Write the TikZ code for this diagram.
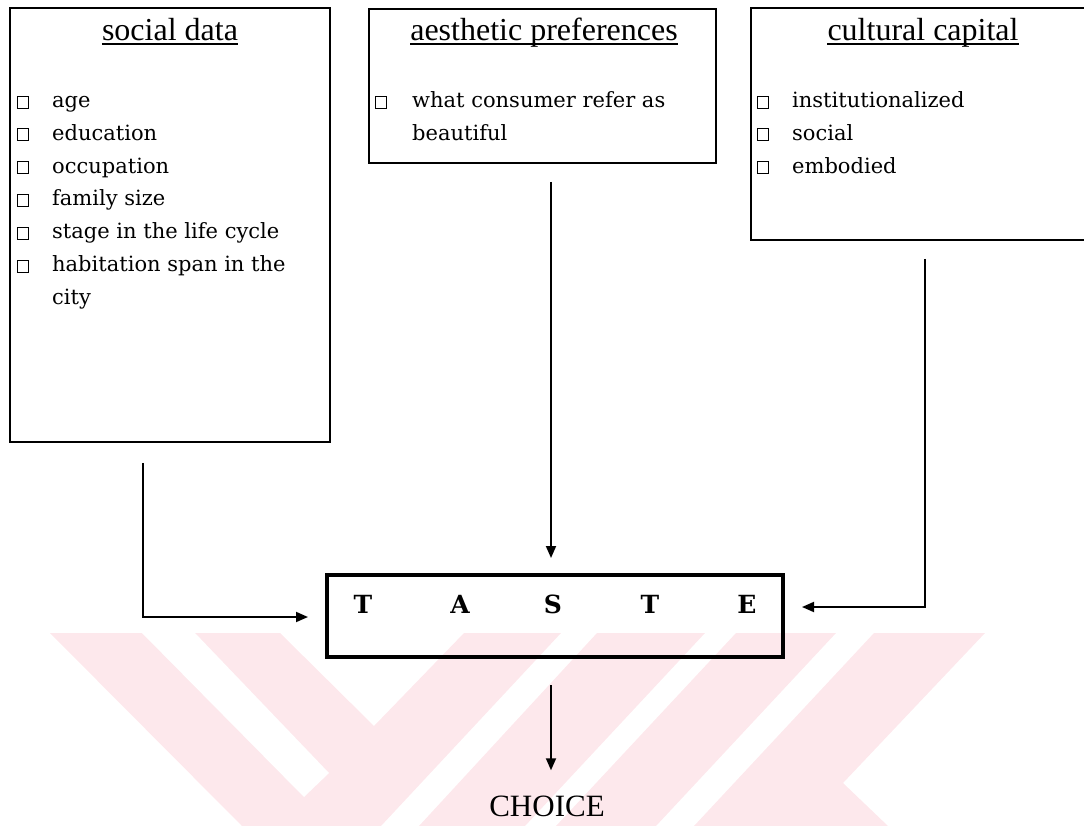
\documentclass[tikz,border=0pt]{standalone}
\usepackage{fontspec}
\setmainfont{Liberation Serif}
\newfontfamily\itemfont{DejaVu Serif}
\usetikzlibrary{arrows.meta}
\definecolor{wmpink}{RGB}{253,232,236}

\begin{document}
\begin{tikzpicture}[x=1pt,y=-1pt,
  box/.style={draw, line width=1.6pt, rectangle, inner sep=0},
  tastebox/.style={draw, line width=4pt, rectangle, inner sep=0,
                   minimum width=456pt, minimum height=82pt},
  ttl/.style={inner sep=0, anchor=base, font=\fontsize{32}{38}\selectfont},
  uline/.style={line width=1.3pt},
  itm/.style={inner sep=0, anchor=base west, font=\itemfont\fontsize{21}{25}\selectfont},
  chkbox/.style={draw, line width=0.8pt, minimum width=11pt, minimum height=12pt, inner sep=0},
  letter/.style={inner sep=0, anchor=base, font=\itemfont\bfseries\fontsize{25}{30}\selectfont},
  conn/.style={line width=1.8pt, -{Triangle[length=12pt,width=10pt]}}]

\useasboundingbox (0,0) rectangle (1084,826);

% faint logo in the lower part of the page
\fill[wmpink] (50,633) -- (280,633) -- (374,726) -- (464,633) -- (561,633)
  -- (381,826) -- (242,826) -- cycle;
\fill[white] (142,633) -- (195,633) -- (329,773) -- (304,797) -- cycle;
\fill[wmpink] (597,633) -- (705,633) -- (525,826) -- (419,826) -- cycle;
\fill[wmpink] (736,633) -- (836,633) -- (656,826) -- (556,826) -- cycle;
\fill[wmpink] (874,633) -- (985,633) -- (843,783) -- (888,826) -- (694,826) -- cycle;

% three source boxes
\node[box, minimum width=320pt, minimum height=434pt] (social) at (170,225) {};
\node[box, minimum width=347pt, minimum height=154pt] (aes) at (542.5,86) {};
\node[box, minimum width=339pt, minimum height=232pt] (cult) at (920.5,124) {};

% headings
\node[ttl] (t1) at (170,41) {social data};
\node[ttl] (t2) at (544,41) {aesthetic preferences};
\node[ttl] (t3) at (923,41) {cultural capital};
\foreach \t in {t1,t2,t3}
  \draw[uline] ([yshift=-3pt]\t.base west) -- ([yshift=-3pt]\t.base east);

% social data items
\foreach \txt [count=\i from 0] in {age,education,occupation,family size,stage in the life cycle,habitation span in the}{
  \node[chkbox] (sc\i) at (22.5,{102+32.8*\i}) {};
  \node[itm] (st\i) at (52,{107.5+32.8*\i}) {\txt};
}
\node[itm] (st6) at (52,304.3) {city};

% aesthetic preference items
\node[chkbox] (ac0) at (381,102) {};
\node[itm] (at0) at (412,107.5) {what consumer refer as};
\node[itm] (at1) at (412,140.3) {beautiful};

% cultural capital items
\foreach \txt [count=\i from 0] in {institutionalized,social,embodied}{
  \node[chkbox] (cc\i) at (763,{102+32.8*\i}) {};
  \node[itm] (ct\i) at (792,{107.5+32.8*\i}) {\txt};
}

% taste box
\node[tastebox] (taste) at (555,616) {};
\foreach \l/\x in {T/363,A/460,S/553,T/650,E/747}
  \node[letter] at (\x,613) {\l};

% outcome
\node[inner sep=0, anchor=base, font=\fontsize{31}{37}\selectfont] (choice) at (547,816) {CHOICE};

% connectors
\draw[conn] ([xshift=-27pt,yshift=-20pt]social.south) |- ([xshift=-17pt,yshift=-1pt]taste.west);
\draw[conn] ([xshift=8.5pt,yshift=-18pt]aes.south) -- ([xshift=-4pt,yshift=15pt]taste.north);
\draw[conn] ([xshift=4.5pt,yshift=-18pt]cult.south) |- ([xshift=17pt,yshift=9pt]taste.east);
\draw[conn] ([xshift=-4pt,yshift=-26pt]taste.south) -- ([xshift=4pt,yshift=25pt]choice.north);

\end{tikzpicture}
\end{document}
